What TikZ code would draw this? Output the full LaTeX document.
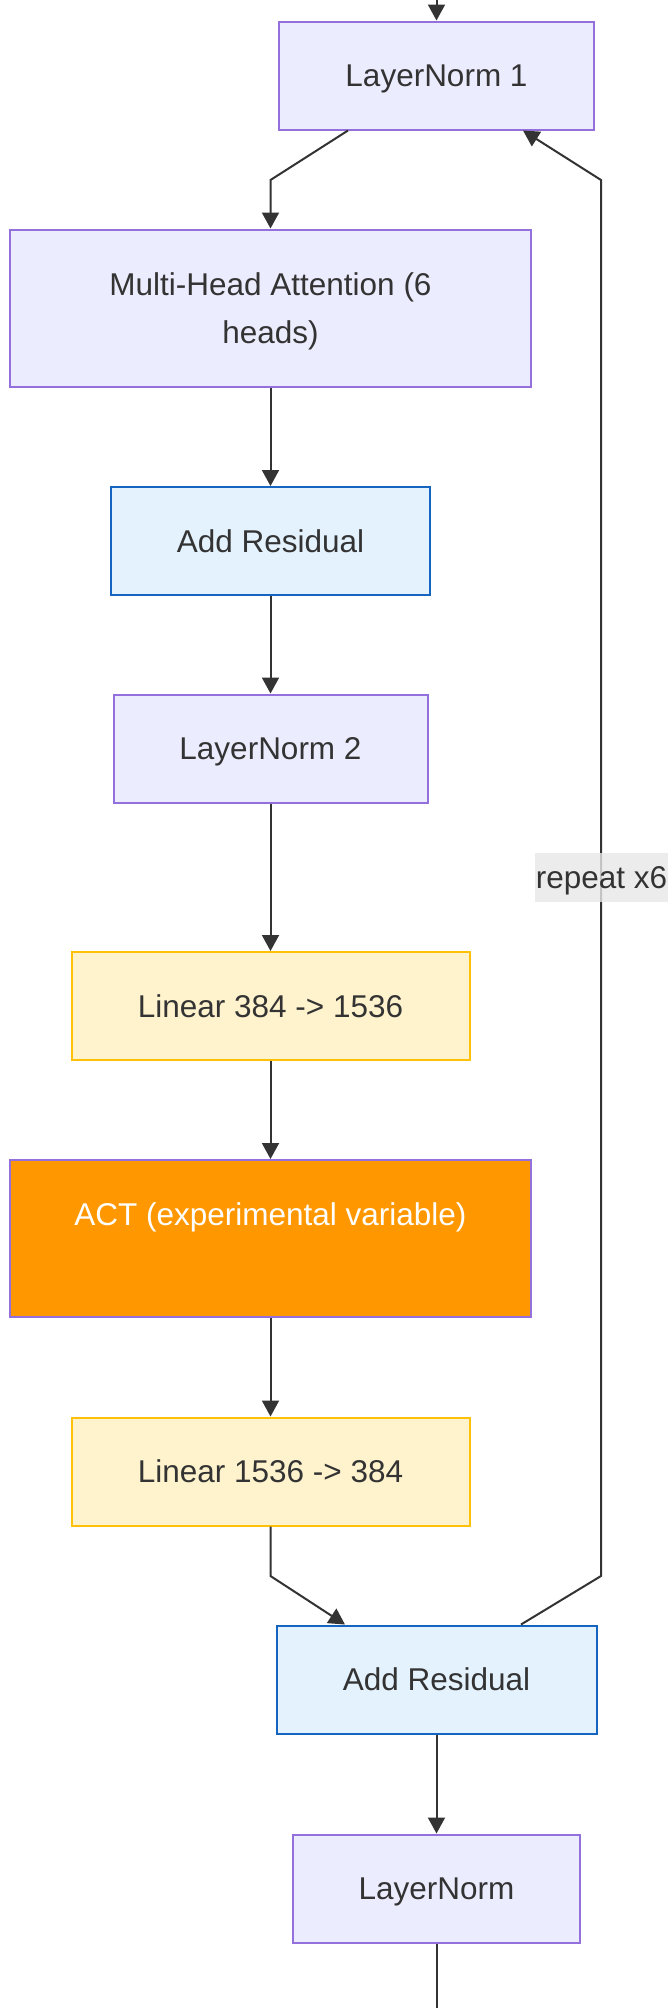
\documentclass[tikz,border=0pt]{standalone}
\usepackage{fontspec}
\setmainfont{Liberation Sans}
\usetikzlibrary{arrows.meta,calc}
\definecolor{txt}{HTML}{333333}
\definecolor{lnfill}{HTML}{ECECFF}
\definecolor{lnline}{HTML}{9370DB}
\definecolor{arfill}{HTML}{E3F2FD}
\definecolor{arline}{HTML}{1565C0}
\definecolor{linfill}{HTML}{FFF3CD}
\definecolor{linline}{HTML}{FFC107}
\definecolor{actfill}{HTML}{FF9800}
\definecolor{lblfill}{HTML}{E8E8E8}
\newcommand\mystrut{\rule[-8pt]{0pt}{38pt}}
\tikzset{
  boxbase/.style={draw, line width=2pt, inner sep=0pt, align=center, text=txt,
    font=\fontsize{31.5}{48}\selectfont},
  lnbox/.style={boxbase, fill=lnfill, draw=lnline},
  arbox/.style={boxbase, fill=arfill, draw=arline},
  linbox/.style={boxbase, fill=linfill, draw=linline},
  actbox/.style={boxbase, fill=actfill, draw=lnline, text=white},
  conn/.style={draw=txt, line width=2pt},
  arr/.style={conn, -{Triangle[length=16pt,width=17pt]}},
  lbl/.style={fill=lblfill, fill opacity=0.8, text opacity=1, text=txt, inner sep=0pt,
    minimum width=133pt, minimum height=49pt, font=\fontsize{31.5}{48}\selectfont}
}
\begin{document}
\begin{tikzpicture}[x=1pt,y=-1pt]
\useasboundingbox (0,0) rectangle (672,2008);
\fill[white] (0,0) rectangle (672,2008);
% nodes
\node[lnbox, minimum width=315pt, minimum height=108pt] (ln1) at (436.5,75.5) {\mystrut LayerNorm 1};
\node[lnbox, minimum width=521pt, minimum height=157pt] (mha) at (270.5,308) {\mystrut Multi-Head Attention (6\\\mystrut heads)};
\node[arbox, minimum width=319pt, minimum height=108pt] (ar1) at (270.5,541) {\mystrut Add Residual};
\node[lnbox, minimum width=314pt, minimum height=108pt] (ln2) at (270.5,748.5) {\mystrut LayerNorm 2};
\node[linbox, minimum width=398pt, minimum height=108pt] (lin1) at (270.5,1006) {\mystrut Linear 384 -> 1536};
\node[actbox, minimum width=521pt, minimum height=157pt] (act) at (270.5,1238.5) {\mystrut ACT (experimental variable)\\\mystrut};
\node[linbox, minimum width=398pt, minimum height=108pt] (lin2) at (270.5,1471.5) {\mystrut Linear 1536 -> 384};
\node[arbox, minimum width=320pt, minimum height=108pt] (ar2) at (436.5,1679.5) {\mystrut Add Residual};
\node[lnbox, minimum width=287pt, minimum height=108pt] (ln3) at (436.5,1888.5) {\mystrut LayerNorm};
% helper coordinates
\coordinate (top) at (436.5,0);
\coordinate (bot) at (436.5,2008);
\coordinate (b1) at (270.5,180);
\coordinate (c1) at (601,1576);
\coordinate (c2) at (601,180);
\coordinate (b2) at (270.5,1576);
% connectors
\draw[arr] (top) -- (ln1.north);
\draw[arr] ([xshift=-88.5pt]ln1.south) -- (b1) -- (mha.north);
\draw[arr] (mha.south) -- (ar1.north);
\draw[arr] (ar1.south) -- (ln2.north);
\draw[arr] (ln2.south) -- (lin1.north);
\draw[arr] (lin1.south) -- (act.north);
\draw[arr] (act.south) -- (lin2.north);
\draw[arr] (lin2.south) -- (b2) -- ([xshift=-91.5pt]ar2.north);
\draw[arr] (ar2.south) -- (ln3.north);
\draw[conn] (ln3.south) -- (bot);
\draw[arr] ([xshift=84.5pt]ar2.north) -- (c1) -- (c2) -- ([xshift=86.5pt]ln1.south);
\node[lbl] (rep) at (601.5,877.5) {\mystrut repeat x6};
\end{tikzpicture}
\end{document}
